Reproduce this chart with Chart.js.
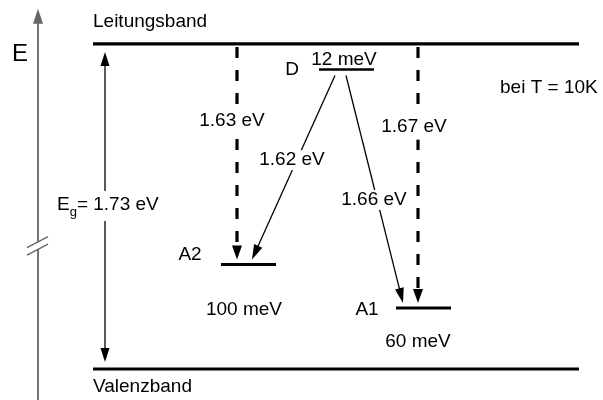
<!DOCTYPE html>
<html>
<head>
<meta charset="utf-8">
<script src="https://cdn.jsdelivr.net/npm/chart.js@4/dist/chart.umd.min.js"></script>
<style>
  html, body { margin: 0; padding: 0; background: #fff; }
  #wrap { width: 603px; height: 400px; }
</style>
</head>
<body>
<div id="wrap"><canvas id="c" width="603" height="400"></canvas></div>
<script>
// Energy levels: band edges and impurity levels (energy in eV above the valence band).
// The impurity levels are placed schematically inside the gap, not to scale.
const levelNames  = ['Leitungsband', 'Valenzband', 'D', 'A2', 'A1'];
const levelTexts  = ['', '', '12 meV', '100 meV', '60 meV'];
const levelEnergy = [1.73, 0, 1.594, 0.556, 0.325];

// Optical transitions between the levels
const transLabels = ['1.63 eV', '1.67 eV', '1.62 eV', '1.66 eV'];
const transFrom   = ['Leitungsband', 'Leitungsband', 'D', 'D'];
const transTo     = ['A2', 'A1', 'A2', 'A1'];
const transKind   = ['band', 'band', 'donor', 'donor'];

const gapLabel = '1.73 eV';
const tempLabel = 'bei T = 10K';

// Horizontal layout of the diagram (x in diagram units 0..603)
const levelX0 = [93, 93, 319, 221, 396];
const levelX1 = [579, 579, 374, 276, 451];
const transX0 = [237, 418, 335, 346];
const transX1 = [237, 418, 252, 403];

const FONT = '"Liberation Sans", Arial, sans-serif';
const idx = n => levelNames.indexOf(n);

const levelDatasets = levelNames.map((n, i) => ({
  label: n,
  data: [{ x: levelX0[i], y: levelEnergy[i] }, { x: levelX1[i], y: levelEnergy[i] }],
  showLine: true,
  borderColor: '#000',
  borderWidth: i < 2 ? 3.2 : (n === 'D' ? 2.6 : 3),
  pointRadius: 0,
  borderCapStyle: 'butt'
}));

function arrowHead(ctx, x0, y0, x1, y1, len, half) {
  const a = Math.atan2(y1 - y0, x1 - x0);
  ctx.beginPath();
  ctx.moveTo(x1, y1);
  ctx.lineTo(x1 - len * Math.cos(a) + half * Math.sin(a), y1 - len * Math.sin(a) - half * Math.cos(a));
  ctx.lineTo(x1 - len * Math.cos(a) - half * Math.sin(a), y1 - len * Math.sin(a) + half * Math.cos(a));
  ctx.closePath();
  ctx.fill();
}

function arrowLine(ctx, x0, y0, x1, y1, width, dash, len, half) {
  const a = Math.atan2(y1 - y0, x1 - x0);
  const bx = x1 - (len - 1) * Math.cos(a), by = y1 - (len - 1) * Math.sin(a);
  ctx.save();
  ctx.lineWidth = width;
  ctx.setLineDash(dash);
  ctx.lineCap = 'butt';
  ctx.beginPath();
  ctx.moveTo(x0, y0);
  ctx.lineTo(bx, by);
  ctx.stroke();
  ctx.restore();
  arrowHead(ctx, x0, y0, x1, y1, len, half);
}

function boxedText(ctx, txt, cx, cy, padX, padY) {
  const w = ctx.measureText(txt).width;
  ctx.fillStyle = '#fff';
  ctx.fillRect(cx - w / 2 - padX, cy - 9 - padY, w + 2 * padX, 18 + 2 * padY);
  ctx.fillStyle = '#000';
  ctx.fillText(txt, cx, cy);
}

const diagram = {
  id: 'diagram',
  afterDatasetsDraw(chart) {
    const ctx = chart.ctx;
    const X = v => chart.scales.x.getPixelForValue(v);
    const Y = v => chart.scales.y.getPixelForValue(v);
    ctx.save();
    ctx.strokeStyle = '#000';
    ctx.fillStyle = '#000';

    // energy axis with break marks
    const ax = X(38);
    ctx.save();
    ctx.strokeStyle = '#666';
    ctx.fillStyle = '#666';
    ctx.lineWidth = 1.8;
    ctx.beginPath();
    ctx.moveTo(ax, Y(-0.2));
    ctx.lineTo(ax, Y(1.88));
    ctx.stroke();
    arrowHead(ctx, ax, Y(0), ax, Y(1.918), 15, 5);
    const b1 = Y(0.675), b2 = Y(0.635);
    ctx.fillStyle = '#fff';
    ctx.beginPath();
    ctx.moveTo(X(27), b1 + 5.5); ctx.lineTo(X(48), b1 - 5.5);
    ctx.lineTo(X(48), b2 - 5.5); ctx.lineTo(X(27), b2 + 5.5);
    ctx.closePath(); ctx.fill();
    ctx.lineWidth = 1.3;
    ctx.beginPath();
    ctx.moveTo(X(27), b1 + 5.5); ctx.lineTo(X(48), b1 - 5.5);
    ctx.moveTo(X(27), b2 + 5.5); ctx.lineTo(X(48), b2 - 5.5);
    ctx.stroke();
    ctx.restore();

    // band gap double arrow
    const cb = Y(levelEnergy[idx('Leitungsband')]);
    const vb = Y(levelEnergy[idx('Valenzband')]);
    const gx = X(105);
    ctx.lineWidth = 1.3;
    ctx.beginPath();
    ctx.moveTo(gx, cb + 18); ctx.lineTo(gx, vb - 18);
    ctx.stroke();
    arrowHead(ctx, gx, vb, gx, cb + 8, 14, 4.5);
    arrowHead(ctx, gx, cb, gx, vb - 7, 14, 4.5);

    // transitions
    transLabels.forEach((t, i) => {
      const f = idx(transFrom[i]), to = idx(transTo[i]);
      const y0 = Y(levelEnergy[f]) + (transKind[i] === 'band' ? 3 : 6);
      const y1 = Y(levelEnergy[to]) - 5;
      if (transKind[i] === 'band') {
        arrowLine(ctx, X(transX0[i]), y0, X(transX1[i]), y1, 3.2, [11, 12], 14, 5);
      } else {
        arrowLine(ctx, X(transX0[i]), y0, X(transX1[i]), y1, 1.3, [], 15, 4.5);
      }
    });

    // texts
    ctx.textBaseline = 'middle';
    ctx.textAlign = 'center';
    ctx.font = '19px ' + FONT;
    boxedText(ctx, transLabels[0], X(232), Y(1.32), 2, 4);
    boxedText(ctx, transLabels[1], X(414), Y(1.29), 2, 4);
    boxedText(ctx, transLabels[2], X(292), Y(1.112), 1, 1);
    boxedText(ctx, transLabels[3], X(374), Y(0.90), 1, 1);

    ctx.fillStyle = '#000';
    ctx.textAlign = 'left';
    ctx.fillText(levelNames[0], X(93), Y(1.848));
    ctx.fillText(levelNames[1], X(93), Y(-0.093));
    ctx.fillText(tempLabel, X(500), Y(1.496));

    ctx.textAlign = 'center';
    ctx.fillText(levelNames[2], X(292), Y(1.592));
    ctx.fillText(levelTexts[2], X(344), Y(1.645));
    ctx.fillText(levelNames[3], X(190), Y(0.608));
    ctx.fillText(levelTexts[3], X(244), Y(0.317));
    ctx.fillText(levelNames[4], X(367), Y(0.314));
    ctx.fillText(levelTexts[4], X(418), Y(0.143));

    ctx.font = '24px ' + FONT;
    ctx.fillText('E', X(20), Y(1.672));

    // E_g label with white backing over the arrow
    ctx.font = '19px ' + FONT;
    ctx.textAlign = 'left';
    const gy = Y(0.873);
    const ex = X(57);
    const wE = ctx.measureText('E').width;
    ctx.font = '13px ' + FONT;
    const wg = ctx.measureText('g').width;
    ctx.font = '19px ' + FONT;
    const rest = '= ' + gapLabel;
    const wr = ctx.measureText(rest).width;
    ctx.fillStyle = '#fff';
    ctx.fillRect(ex - 2, gy - 14, wE + wg + wr + 4, 30);
    ctx.fillStyle = '#000';
    ctx.fillText('E', ex, gy);
    ctx.font = '13px ' + FONT;
    ctx.fillText('g', ex + wE, gy + 7);
    ctx.font = '19px ' + FONT;
    ctx.fillText(rest, ex + wE + wg, gy);

    ctx.restore();
  }
};

new Chart(document.getElementById('c'), {
  type: 'scatter',
  data: { datasets: levelDatasets },
  options: {
    responsive: false,
    animation: false,
    layout: { padding: 0 },
    plugins: { legend: { display: false }, tooltip: { enabled: false } },
    scales: {
      x: { type: 'linear', min: 0, max: 603, display: false },
      y: { type: 'linear', min: -0.165, max: 1.964, display: false }
    }
  },
  plugins: [diagram]
});
</script>
</body>
</html>
